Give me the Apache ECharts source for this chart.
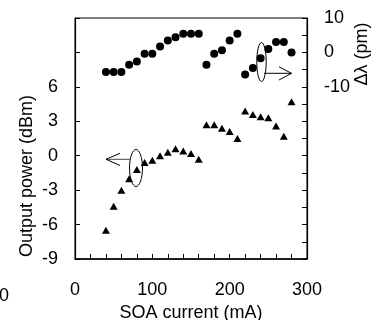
<!DOCTYPE html>
<html>
<head>
<meta charset="utf-8">
<script src="https://cdn.jsdelivr.net/npm/echarts@6/dist/echarts.min.js"></script>
<style>
  html, body { margin: 0; padding: 0; background: #fff; }
  #chart { width: 376px; height: 320px; }
</style>
</head>
<body>
<div id="chart"></div>
<script>
// SOA current (mA)
const current = [40, 50, 60, 70, 80, 90, 100, 110, 120, 130, 140, 150, 160,
  170, 180, 190, 200, 210,
  220, 230, 240, 250, 260, 270, 280];
// output power (dBm), left axis, triangles
const power = [-6.5, -4.4, -3.0, -2.0, -1.2, -0.6, -0.4, 0.0, 0.3, 0.6, 0.4, 0.2, -0.3,
  2.7, 2.7, 2.4, 2.1, 1.5,
  3.9, 3.6, 3.4, 3.3, 2.6, 1.7, 4.7];
// wavelength shift (pm), right axis, circles
const shift = [-5.7, -5.7, -5.7, -3.6, -2.6, -0.4, -0.4, 1.7, 3.5, 4.4, 5.4, 5.4, 5.4,
  -3.6, -0.4, 0.6, 3.5, 5.4,
  -6.4, -4.5, -1.7, 1.0, 3.0, 3.0, 0.0];

const xLabels = [0, 100, 200, 300];
const leftLabels = [-9, -6, -3, 0, 3, 6];
const rightLabels = [-10, 0, 10];

const font = "'Liberation Sans', Arial, sans-serif";
const txt = { fontFamily: font, fontSize: 18, color: '#000' };

const chart = echarts.init(document.getElementById('chart'), null, { renderer: 'canvas' });

chart.setOption({
  animation: false,
  backgroundColor: '#fff',
  grid: {
    left: 75, right: 69, top: 18, bottom: 61,
    outerBoundsMode: 'none',
    containLabel: false,
    show: true, borderColor: '#000', borderWidth: 1
  },
  xAxis: {
    type: 'value',
    min: 0, max: 300, interval: 20,
    name: 'SOA current (mA)',
    nameLocation: 'middle',
    nameGap: 43,
    nameTextStyle: txt,
    axisLine: { onZero: false, lineStyle: { color: '#000', width: 1.5 } },
    axisTick: { inside: true, length: 5, lineStyle: { color: '#000' } },
    axisLabel: Object.assign({
      margin: 22,
      formatter: v => xLabels.includes(v) ? String(v) : ''
    }, txt),
    splitLine: { show: false }
  },
  yAxis: [
    {
      type: 'value',
      min: -9, max: 12, interval: 3,
      axisLine: { show: true, onZero: false, lineStyle: { color: '#000', width: 1.2 } },
      axisTick: { inside: true, length: 5, lineStyle: { color: '#000' } },
      axisLabel: Object.assign({
        margin: 17,
        formatter: v => leftLabels.includes(v) ? String(v) : ''
      }, txt),
      splitLine: { show: false }
    },
    {
      type: 'value',
      position: 'right',
      min: -60, max: 10, interval: 5,
      axisLine: { show: true, onZero: false, lineStyle: { color: '#000', width: 1.2 } },
      axisTick: { inside: true, length: 5, lineStyle: { color: '#000' } },
      axisLabel: Object.assign({
        margin: 17,
        formatter: v => rightLabels.includes(v) ? String(v) : ''
      }, txt),
      splitLine: { show: false }
    }
  ],
  series: [
    {
      name: 'Output power',
      type: 'scatter',
      yAxisIndex: 0,
      symbol: 'triangle',
      symbolSize: [8, 7],
      itemStyle: { color: '#000', opacity: 1 },
      data: current.map((c, i) => [c, power[i]])
    },
    {
      name: 'Δλ',
      type: 'scatter',
      yAxisIndex: 1,
      symbol: 'circle',
      symbolSize: 8,
      itemStyle: { color: '#000', opacity: 1 },
      data: current.map((c, i) => [c, shift[i]])
    }
  ],
  graphic: [
    // axis titles
    {
      type: 'text', x: 27, y: 176, rotation: Math.PI / 2,
      style: { text: 'Output power (dBm)', align: 'center', verticalAlign: 'middle', font: '18px ' + font, fill: '#000' }
    },
    {
      type: 'text', x: 362, y: 54, rotation: Math.PI / 2,
      style: { text: 'Δλ (pm)', align: 'center', verticalAlign: 'middle', font: '18px ' + font, fill: '#000' }
    },
    // stray cropped label at the left edge
    {
      type: 'text', x: -1, y: 296,
      style: { text: '0', align: 'left', verticalAlign: 'middle', font: '18px ' + font, fill: '#000' }
    },
    // left annotation: ellipse + arrow pointing to left axis
    {
      type: 'ellipse', shape: { cx: 136, cy: 168, rx: 6.5, ry: 18.5 },
      style: { fill: 'none', stroke: '#000', lineWidth: 1 }
    },
    {
      type: 'polyline', shape: { points: [[131, 159.3], [106, 159.3]] },
      style: { stroke: '#444', lineWidth: 1 }
    },
    {
      type: 'polyline', shape: { points: [[120, 153.3], [106, 159.3], [120, 165.5]] },
      style: { fill: 'none', stroke: '#000', lineWidth: 1 }
    },
    // right annotation: ellipse + arrow pointing to right axis
    {
      type: 'ellipse', shape: { cx: 261.5, cy: 62, rx: 4.7, ry: 19.5 },
      style: { fill: 'none', stroke: '#000', lineWidth: 1 }
    },
    {
      type: 'polyline', shape: { points: [[264, 73.3], [291.5, 73.3]] },
      style: { stroke: '#000', lineWidth: 1 }
    },
    {
      type: 'polyline', shape: { points: [[279, 66.8], [291.5, 73.3], [279, 80]] },
      style: { fill: 'none', stroke: '#000', lineWidth: 1 }
    }
  ]
});
</script>
</body>
</html>
